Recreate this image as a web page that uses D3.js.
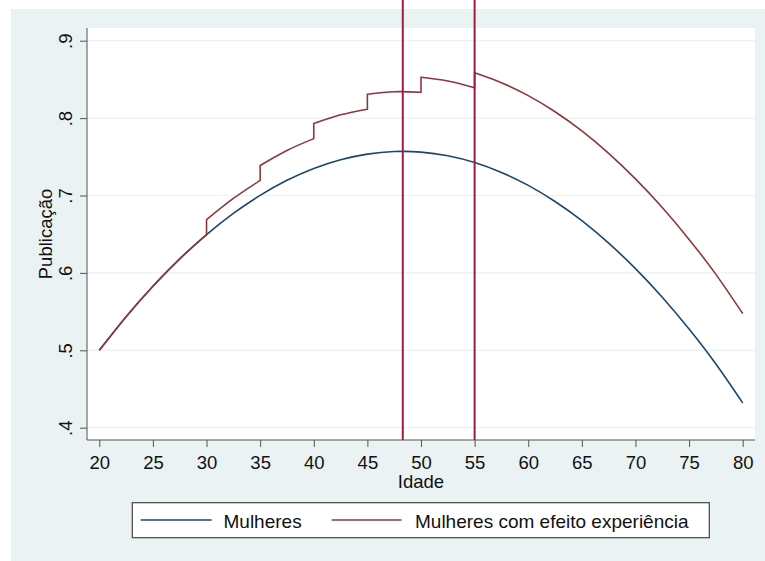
<!DOCTYPE html>
<html>
<head>
<meta charset="utf-8">
<script src="https://cdn.jsdelivr.net/npm/d3@7"></script>
<style>
  html, body { margin: 0; padding: 0; background: #ffffff; }
  svg { display: block; font-family: "Liberation Sans", Arial, sans-serif; }
</style>
</head>
<body>
<svg id="chart" width="765" height="561"></svg>
<script>
// Ages (years) and predicted publication for women
const ages = [20, 22.5, 25, 27.5, 30, 32.5, 35, 37.5, 40, 42.5, 45, 47.5, 50,
              52.5, 55, 57.5, 60, 62.5, 65, 67.5, 70, 72.5, 75, 77.5, 80];
const mulheres = [0.500, 0.5434, 0.5828, 0.6182, 0.6495, 0.6769, 0.7002, 0.7196,
                  0.7349, 0.7462, 0.7535, 0.7568, 0.7561, 0.7513, 0.7426, 0.7298,
                  0.7131, 0.6923, 0.6675, 0.6385, 0.6055, 0.5685, 0.5274, 0.4822, 0.4320];

// Women with experience effect: a step age appears twice (before / after the jump)
const expAges = [20, 22.5, 25, 27.5, 30,
                 30, 32.5, 35,
                 35, 37.5, 40,
                 40, 42.5, 45,
                 45, 47.5, 50,
                 50, 52.5, 55,
                 55, 57.5, 60, 62.5, 65, 67.5, 70, 72.5, 75, 77.5, 80];
const expValues = [0.500, 0.5434, 0.5828, 0.6182, 0.6495,
                   0.6688, 0.6962, 0.7195,
                   0.7388, 0.7582, 0.7735,
                   0.7929, 0.8042, 0.8115,
                   0.8308, 0.8341, 0.8334,
                   0.8527, 0.8479, 0.8392,
                   0.8585, 0.8457, 0.8290, 0.8082, 0.7834, 0.7544, 0.7214,
                   0.6844, 0.6433, 0.5981, 0.5475];

// Reference lines (ages)
const xLines = [48.3, 55];

// Axis ticks
const xTicks = [20, 25, 30, 35, 40, 45, 50, 55, 60, 65, 70, 75, 80];
const yTicks = [0.4, 0.5, 0.6, 0.7, 0.8, 0.9];
const yTickLabels = [".4", ".5", ".6", ".7", ".8", ".9"];

const legendLabels = ["Mulheres", "Mulheres com efeito experiência"];
const colors = ["#1a476f", "#90353b"];
const lineColor = "#9b1d3f";
const textColor = "#111";

const svg = d3.select("#chart");
const plot = { left: 87, right: 755, top: 28, bottom: 440 };

const x = d3.scaleLinear().domain([20, 80]).range([99.3, 742.7]);
const y = d3.scaleLinear().domain([0.4, 0.9]).range([427.7, 40.7]);

// outer background
svg.append("rect").attr("x", 11).attr("y", 9).attr("width", 754).attr("height", 552)
  .attr("fill", "#eaf2f3");

// plot region
svg.append("rect").attr("x", plot.left).attr("y", plot.top)
  .attr("width", plot.right - plot.left).attr("height", plot.bottom - plot.top)
  .attr("fill", "#ffffff");

// horizontal grid lines
svg.append("g").selectAll("line").data(yTicks).join("line")
  .attr("x1", plot.left).attr("x2", plot.right)
  .attr("y1", d => y(d)).attr("y2", d => y(d))
  .attr("stroke", "#eaf2f3").attr("stroke-width", 1.2);

// x axis
const xAxis = svg.append("g").attr("transform", `translate(0,${plot.bottom})`)
  .call(d3.axisBottom(x).tickValues(xTicks).tickSize(7).tickPadding(8.5).tickSizeOuter(0));
xAxis.select(".domain").attr("d", `M${plot.left},0H${plot.right}`).attr("stroke", "#555");
xAxis.selectAll(".tick line").attr("stroke", "#555");
xAxis.selectAll(".tick text").attr("font-size", 18.5).attr("fill", textColor)
  .attr("font-family", "Liberation Sans, Arial, sans-serif");

// y axis
const yAxis = svg.append("g").attr("transform", `translate(${plot.left},0)`)
  .call(d3.axisLeft(y).tickValues(yTicks).tickSize(7).tickSizeOuter(0)
    .tickFormat((d, i) => yTickLabels[i]));
yAxis.select(".domain").attr("d", `M0,${plot.top}V${plot.bottom}`).attr("stroke", "#555");
yAxis.selectAll(".tick line").attr("stroke", "#555");
yAxis.selectAll(".tick text")
  .attr("x", 0).attr("y", -15).attr("dy", 0)
  .attr("transform", "rotate(-90)")
  .attr("text-anchor", "middle")
  .attr("font-size", 18.5).attr("fill", textColor)
  .attr("font-family", "Liberation Sans, Arial, sans-serif");

// axis titles
svg.append("text").attr("x", (plot.left + plot.right) / 2).attr("y", 488.3)
  .attr("text-anchor", "middle").attr("font-size", 18.5).attr("fill", textColor)
  .text("Idade");
svg.append("text").attr("transform", `translate(52,${(plot.top + plot.bottom) / 2}) rotate(-90)`)
  .attr("text-anchor", "middle").attr("font-size", 18.5).attr("fill", textColor)
  .text("Publicação");

// curves
const lineGen = d3.line().x(d => x(d[0])).y(d => y(d[1])).curve(d3.curveNatural);

svg.append("path")
  .attr("d", lineGen(ages.map((a, i) => [a, mulheres[i]])))
  .attr("fill", "none").attr("stroke", colors[0]).attr("stroke-width", 1.6);

// split the stepped series into smooth runs joined by vertical jumps
const runs = [];
expAges.forEach((a, i) => {
  if (i === 0 || a === expAges[i - 1]) runs.push([]);
  runs[runs.length - 1].push([a, expValues[i]]);
});
const expPath = runs.map((r, i) => {
  const p = lineGen(r);
  return i === 0 ? p : "L" + p.slice(1);
}).join("");
svg.append("path").attr("d", expPath)
  .attr("fill", "none").attr("stroke", colors[1]).attr("stroke-width", 1.6);

// vertical reference lines
svg.append("g").selectAll("line").data(xLines).join("line")
  .attr("x1", d => x(d)).attr("x2", d => x(d))
  .attr("y1", 0).attr("y2", plot.bottom)
  .attr("stroke", lineColor).attr("stroke-width", 2);

// legend
const lg = svg.append("g");
lg.append("rect").attr("x", 132.3).attr("y", 502.7).attr("width", 577).attr("height", 35)
  .attr("fill", "#ffffff").attr("stroke", "#444").attr("stroke-width", 1.2);
const legendItems = [
  { x1: 140.7, x2: 211.7, tx: 223.5 },
  { x1: 331.7, x2: 401.5, tx: 415 }
];
legendItems.forEach((it, i) => {
  lg.append("line").attr("x1", it.x1).attr("x2", it.x2).attr("y1", 520).attr("y2", 520)
    .attr("stroke", colors[i]).attr("stroke-width", 1.6);
  lg.append("text").attr("x", it.tx).attr("y", 527.5)
    .attr("font-size", 19).attr("fill", textColor).text(legendLabels[i]);
});
</script>
</body>
</html>
